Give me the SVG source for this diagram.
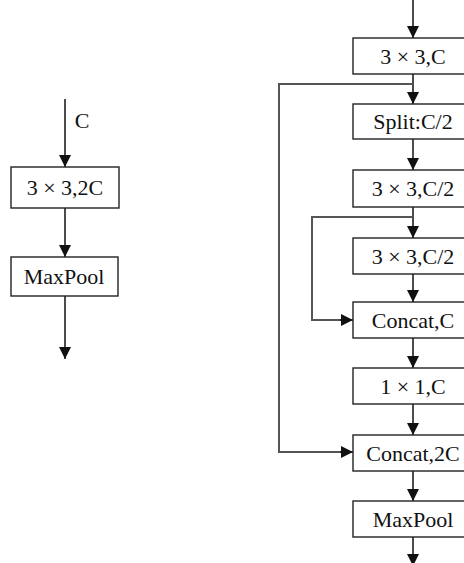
<svg xmlns="http://www.w3.org/2000/svg" width="464" height="563" viewBox="0 0 464 563">
<style>
.box{fill:#fff;stroke:#222;stroke-width:1.4}
.lbl{font-family:"Liberation Serif","Times New Roman",serif;font-size:22px;fill:#111;text-anchor:middle}
.ln{fill:none;stroke:#111;stroke-width:1.5}
.by{fill:none;stroke:#555;stroke-width:2}
</style>
<defs>
<marker id="ah" viewBox="0 0 12 12" refX="12" refY="6" markerWidth="12" markerHeight="12" markerUnits="userSpaceOnUse" orient="auto">
<path d="M0,0 L12,6 L0,12 Z" fill="#111"/>
</marker>
</defs>
<g id="connectors">
<line class="ln" x1="65" y1="99" x2="65" y2="167" marker-end="url(#ah)"/>
<line class="ln" x1="65" y1="208" x2="65" y2="257" marker-end="url(#ah)"/>
<line class="ln" x1="65" y1="296" x2="65" y2="359" marker-end="url(#ah)"/>
<line class="ln" x1="413" y1="0" x2="413" y2="38" marker-end="url(#ah)"/>
<line class="ln" x1="413" y1="74" x2="413" y2="104" marker-end="url(#ah)"/>
<line class="ln" x1="413" y1="139" x2="413" y2="170" marker-end="url(#ah)"/>
<line class="ln" x1="413" y1="207" x2="413" y2="238" marker-end="url(#ah)"/>
<line class="ln" x1="413" y1="274" x2="413" y2="302" marker-end="url(#ah)"/>
<line class="ln" x1="413" y1="338" x2="413" y2="368" marker-end="url(#ah)"/>
<line class="ln" x1="413" y1="404" x2="413" y2="435" marker-end="url(#ah)"/>
<line class="ln" x1="413" y1="471" x2="413" y2="501" marker-end="url(#ah)"/>
<line class="ln" x1="413" y1="537" x2="413" y2="566" marker-end="url(#ah)"/>
<polyline class="by" points="413,84 279,84 279,452 343,452"/>
<line class="ln" x1="340" y1="452" x2="353" y2="452" marker-end="url(#ah)"/>
<polyline class="by" points="413,217 312,217 312,320 343,320"/>
<line class="ln" x1="340" y1="320" x2="353" y2="320" marker-end="url(#ah)"/>
</g>
<text class="lbl" x="82" y="128">C</text>
<g id="l1"><rect class="box" x="11" y="167" width="108" height="41"/><text class="lbl" x="65" y="195">3 × 3,2C</text></g>
<g id="l2"><rect class="box" x="11" y="257" width="107" height="39"/><text class="lbl" x="64" y="284">MaxPool</text></g>
<g id="r1"><rect class="box" x="353" y="38" width="120" height="36"/><text class="lbl" x="413" y="64">3 × 3,C</text></g>
<g id="r2"><rect class="box" x="353" y="104" width="120" height="35"/><text class="lbl" x="413" y="129">Split:C/2</text></g>
<g id="r3"><rect class="box" x="353" y="170" width="120" height="37"/><text class="lbl" x="413" y="196">3 × 3,C/2</text></g>
<g id="r4"><rect class="box" x="353" y="238" width="120" height="36"/><text class="lbl" x="413" y="264">3 × 3,C/2</text></g>
<g id="r5"><rect class="box" x="353" y="302" width="120" height="36"/><text class="lbl" x="413" y="328">Concat,C</text></g>
<g id="r6"><rect class="box" x="353" y="368" width="120" height="36"/><text class="lbl" x="413" y="394">1 × 1,C</text></g>
<g id="r7"><rect class="box" x="353" y="435" width="120" height="36"/><text class="lbl" x="413" y="461">Concat,2C</text></g>
<g id="r8"><rect class="box" x="353" y="501" width="120" height="36"/><text class="lbl" x="413" y="527">MaxPool</text></g>
</svg>
